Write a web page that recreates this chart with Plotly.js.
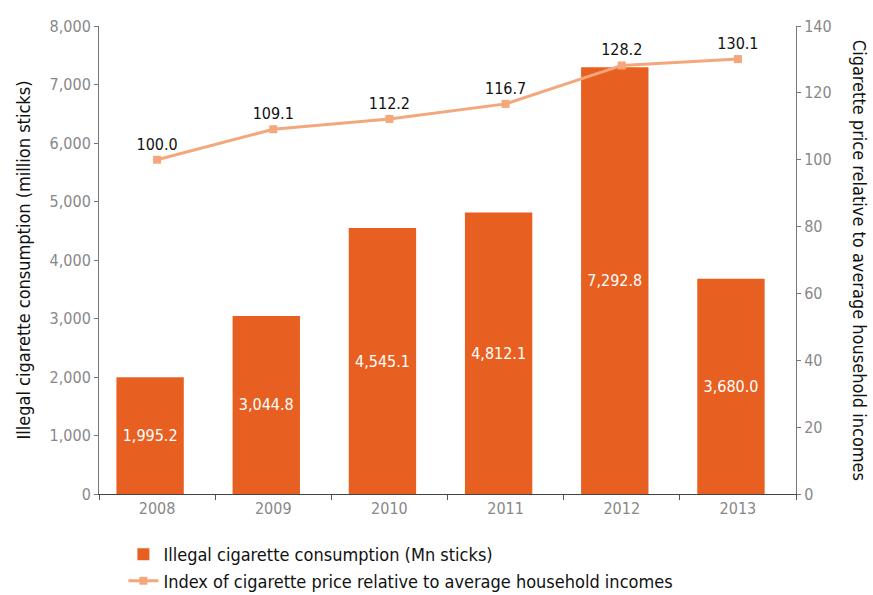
<!DOCTYPE html>
<html>
<head>
<meta charset="utf-8">
<script src="https://cdn.plot.ly/plotly-3.0.1.min.js"></script>
<style>html,body{margin:0;padding:0;background:#fff;}#chart{width:873px;height:595px;}</style>
</head>
<body>
<div id="chart"></div>
<script>
var years = ['2008', '2009', '2010', '2011', '2012', '2013'];
var illegalConsumption = [1995.2, 3044.8, 4545.1, 4812.1, 7292.8, 3680.0];
var priceIndex = [100.0, 109.1, 112.2, 116.7, 128.2, 130.1];
var leftTicks = [0, 1000, 2000, 3000, 4000, 5000, 6000, 7000, 8000];
var rightTicks = [0, 20, 40, 60, 80, 100, 120, 140];

var FONT = '"Liberation Sans Narrow", "DejaVu Sans Condensed", "Roboto", sans-serif';

function fmt(v) {
  return v.toLocaleString('en-US', {minimumFractionDigits: 1, maximumFractionDigits: 1});
}

var bars = {
  type: 'bar',
  name: 'Illegal cigarette consumption (Mn sticks)',
  x: years,
  y: illegalConsumption,
  width: 0.58,
  offset: -0.35,
  marker: {color: '#E86021'},
  text: illegalConsumption.map(fmt),
  textposition: 'inside',
  insidetextanchor: 'middle',
  textfont: {color: '#ffffff', size: 16, family: FONT},
  hoverinfo: 'x+y'
};

var line = {
  type: 'scatter',
  mode: 'lines+markers+text',
  name: 'Index of cigarette price relative to average household incomes',
  x: years,
  y: priceIndex,
  yaxis: 'y2',
  line: {color: '#F5A77C', width: 3},
  marker: {color: '#F5A77C', symbol: 'square', size: 8},
  text: priceIndex.map(fmt),
  textposition: 'top center',
  textfont: {color: '#111111', size: 16, family: FONT},
  cliponaxis: false
};

var layout = {
  width: 873,
  height: 595,
  margin: {l: 99, r: 77, t: 26, b: 101, autoexpand: false},
  paper_bgcolor: '#ffffff',
  plot_bgcolor: '#ffffff',
  font: {family: FONT, color: '#111111'},
  showlegend: true,
  legend: {
    x: 0.035, y: -0.09, xanchor: 'left', yanchor: 'top',
    orientation: 'v',
    font: {size: 18, color: '#111111', family: FONT},
    traceorder: 'normal',
    itemwidth: 30,
    tracegroupgap: 0
  },
  xaxis: {
    type: 'category',
    showline: true, linecolor: '#444444', linewidth: 1,
    ticks: 'outside', tickson: 'boundaries', ticklen: 5, tickcolor: '#555555',
    tickfont: {size: 16, color: '#888888', family: FONT},
    showgrid: false, zeroline: false
  },
  yaxis: {
    range: [0, 8000],
    tickvals: leftTicks,
    ticktext: leftTicks.map(function (v) { return v.toLocaleString('en-US'); }),
    showline: true, linecolor: '#777777', linewidth: 1,
    ticks: 'outside', ticklen: 4, tickcolor: '#777777',
    tickfont: {size: 16, color: '#888888', family: FONT},
    showgrid: false, zeroline: false,
    title: {text: 'Illegal cigarette consumption (million sticks)', font: {size: 18, color: '#111111', family: FONT}, standoff: 14}
  },
  yaxis2: {
    overlaying: 'y', side: 'right',
    range: [0, 140],
    tickvals: rightTicks,
    showline: true, linecolor: '#777777', linewidth: 1,
    ticks: 'outside', ticklen: 4, tickcolor: '#777777',
    tickfont: {size: 16, color: '#888888', family: FONT},
    showgrid: false, zeroline: false
  },
  annotations: [{
    xref: 'paper', yref: 'paper',
    x: 1.11, y: 0.5,
    text: 'Cigarette price relative to average household incomes',
    textangle: 90,
    showarrow: false,
    font: {size: 18, color: '#111111', family: FONT}
  }]
};

Plotly.newPlot('chart', [bars, line], layout, {displayModeBar: false, staticPlot: true});
</script>
</body>
</html>
